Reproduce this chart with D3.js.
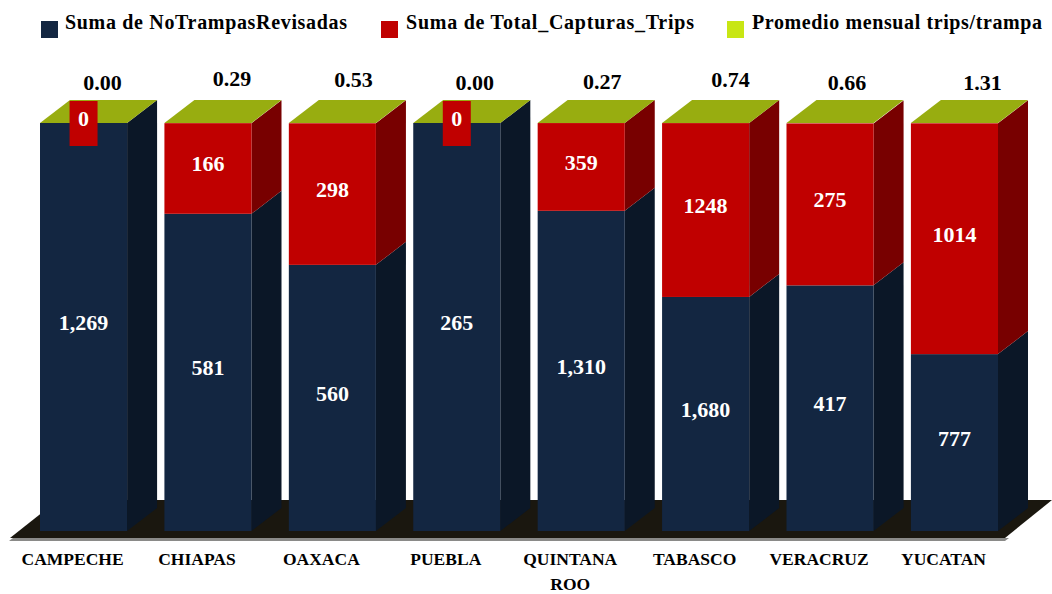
<!DOCTYPE html>
<html><head><meta charset="utf-8">
<script src="https://cdnjs.cloudflare.com/ajax/libs/d3/7.9.0/d3.min.js"></script>
<style>
html,body{margin:0;padding:0;background:#fff}
svg{display:block}
text{font-family:"Liberation Serif",serif;font-weight:700}
</style></head><body>
<div id="chart"></div>
<script>
const categories = ["CAMPECHE","CHIAPAS","OAXACA","PUEBLA","QUINTANA ROO","TABASCO","VERACRUZ","YUCATAN"];
const trampas = [1269,581,560,265,1310,1680,417,777];
const capturas = [0,166,298,0,359,1248,275,1014];
const promedio = [0.00,0.29,0.53,0.00,0.27,0.74,0.66,1.31];
const seriesNames = ["Suma de NoTrampasRevisadas","Suma de Total_Capturas_Trips","Promedio mensual trips/trampa"];
const colors = ["#132641","#c00000","#c8e614"];
const sideColors = ["#0b1727","#780000","#98ad10"];
const topColor = "#98ad10";

const W=1052,H=594;
const svg=d3.select("#chart").append("svg").attr("width",W).attr("height",H);

// layout
const x=d3.scaleBand().domain(categories).range([40,998]).paddingInner(0.30).paddingOuter(0);
const bw=x.bandwidth();
const y=d3.scaleLinear().domain([0,1]).range([531,123]);
const dx=30, dy=23;
const xc=c=>x(c);

// floor
svg.append("polygon").attr("points",[[9,541],[1005,541],[1009,538],[13,538]].join(" ")).attr("fill","#8a8a88");
svg.append("polygon").attr("points",[[10,538],[1005,538],[1052,500],[58,500]].join(" ")).attr("fill","#1a170f");

// stacked 100%
const rows=categories.map((c,i)=>{
  const t=trampas[i],k=capturas[i],s=t+k+promedio[i];
  return {c,i,y0:0,y1:t/s,y2:(t+k)/s,y3:1};
});
const g=svg.append("g");
rows.forEach(r=>{
  const X=xc(r.c);
  const segs=[[r.y0,r.y1,0],[r.y1,r.y2,1]];
  segs.forEach(([a,b,n])=>{
    if(b-a<=0) return;
    g.append("polygon")
      .attr("points",[[X+bw,y(a)],[X+bw+dx,y(a)-dy],[X+bw+dx,y(b)-dy],[X+bw,y(b)]].join(" "))
      .attr("fill",sideColors[n]);
    g.append("rect").attr("x",X).attr("y",y(b)).attr("width",bw).attr("height",y(a)-y(b)).attr("fill",colors[n]);
  });
  g.append("polygon")
    .attr("points",[[X,y(1)],[X+bw,y(1)],[X+bw+dx,y(1)-dy],[X+dx,y(1)-dy]].join(" "))
    .attr("fill",topColor);
});

// value labels
const topDx=[19,24,21,18,21,25,17,28];
const topY=[90,86,87,90,89,87,90,90];
const lab=svg.append("g");
rows.forEach(r=>{
  const cx=xc(r.c)+bw/2;
  lab.append("text").attr("x",cx).attr("y",(y(r.y0)+y(r.y1))/2+3).attr("text-anchor","middle")
    .attr("fill","#fff").attr("font-size",22).text(d3.format(",")(trampas[r.i]));
  if(capturas[r.i]===0){
    lab.append("rect").attr("x",cx-14).attr("y",101).attr("width",28).attr("height",45).attr("fill",colors[1]);
  }
  lab.append("text").attr("x",cx).attr("y",(y(r.y1)+y(r.y2))/2+3).attr("text-anchor","middle")
    .attr("fill","#fff").attr("font-size",22).text(capturas[r.i]);
  lab.append("text").attr("x",cx+topDx[r.i]).attr("y",topY[r.i]).attr("text-anchor","middle")
    .attr("fill","#000").attr("font-size",22).text(promedio[r.i].toFixed(2));
});

// axis labels
const ax=svg.append("g");
rows.forEach(r=>{
  const cx=xc(r.c)+bw/2-11;
  const words=r.c==="QUINTANA ROO"?["QUINTANA","ROO"]:[r.c];
  words.forEach((w,j)=>ax.append("text").attr("x",cx).attr("y",565+j*25)
    .attr("text-anchor","middle").attr("font-size",17.5).attr("fill","#000").text(w));
});

// legend
const legX=[41,381,727], legT=[65,406,752], legW=[282,288,290];
seriesNames.forEach((n,i)=>{
  svg.append("rect").attr("x",legX[i]).attr("y",21).attr("width",17).attr("height",17).attr("fill",colors[i]);
  svg.append("text").attr("x",legT[i]).attr("y",29).attr("font-size",20).attr("fill","#000")
    .attr("textLength",legW[i]).attr("lengthAdjust","spacing").text(n);
});
</script>
</body></html>
